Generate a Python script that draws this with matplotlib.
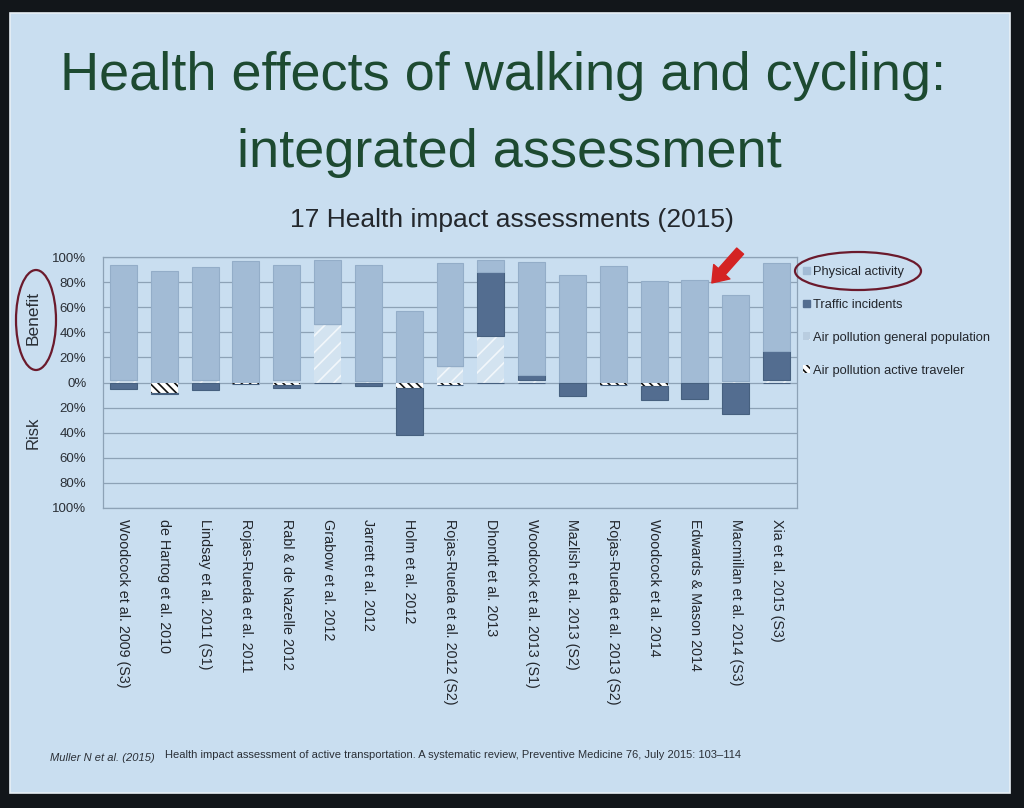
import numpy as np
import matplotlib
matplotlib.use("Agg")
import matplotlib.pyplot as plt
from matplotlib.patches import Rectangle, Ellipse, Patch

plt.rcParams['font.family'] = ['Liberation Sans', 'DejaVu Sans']
plt.rcParams['hatch.linewidth'] = 1.2

# studies (x axis)
studies = ["Woodcock et al. 2009 (S3)", "de Hartog et al. 2010", "Lindsay et al. 2011 (S1)",
           "Rojas-Rueda et al. 2011", "Rabl & de Nazelle 2012", "Grabow et al. 2012",
           "Jarrett et al. 2012", "Holm et al. 2012", "Rojas-Rueda et al. 2012 (S2)",
           "Dhondt et al. 2013", "Woodcock et al. 2013 (S1)", "Mazlish et al. 2013 (S2)",
           "Rojas-Rueda et al. 2013 (S2)", "Woodcock et al. 2014", "Edwards & Mason 2014",
           "Macmillan et al. 2014 (S3)", "Xia et al. 2015 (S3)"]

# benefit side (% of total impact)
airpol_general = [2, 0, 2, 0, 2, 47, 1, 0, 13, 37, 2, 0, 0, 0, 0, 1, 2]
traffic_benefit = [0, 0, 0, 0, 0, 0, 0, 0, 0, 51, 4, 0, 0, 0, 0, 0, 23]
physical_activity = [92, 89, 90, 97, 92, 51, 93, 57, 82, 10, 90, 86, 93, 81, 82, 69, 70]

# risk side
airpol_traveler = [0, 8, 0, 1, 2, 0, 0, 4, 2, 0, 0, 0, 2, 3, 0, 0, 0]
traffic_risk = [5, 1, 6, 0, 2, 0, 3, 38, 0, 0, 0, 11, 0, 11, 13, 25, 0]

legend_labels = ["Physical activity", "Traffic incidents",
                 "Air pollution general population", "Air pollution active traveler"]
ytick_vals = [100, 80, 60, 40, 20, 0, -20, -40, -60, -80, -100]

W, H = 1024, 808
fig = plt.figure(figsize=(W / 100, H / 100), dpi=100, facecolor="#12161a")

# slide
slide_bg = "#c9def0"
fig.patches.append(Rectangle((10 / W, 1 - 793 / H), 1000 / W, 780 / H,
                             transform=fig.transFigure, facecolor=slide_bg,
                             edgecolor="#e8f0f6", lw=1.2, zorder=-10))

c_pa = "#a2bbd5"
c_tr = "#536d90"
c_gp = "#d3e3f0"
gp_hatch = "#f2f7fb"

ax = fig.add_axes([103 / W, 1 - 508 / H, 694 / W, 251 / H])
ax.set_facecolor(slide_bg)
x = np.arange(len(studies))
bw = 0.66

gp = np.array(airpol_general)
tb = np.array(traffic_benefit)
pa = np.array(physical_activity)
at = np.array(airpol_traveler)
tr = np.array(traffic_risk)

ax.bar(x, gp, bw, color=c_gp, edgecolor=gp_hatch, lw=0, hatch="//", zorder=3)
ax.bar(x, tb, bw, bottom=gp, color=c_tr, edgecolor="#46607f", lw=0.8, zorder=3)
ax.bar(x, pa, bw, bottom=gp + tb, color=c_pa, edgecolor="#93adc8", lw=0.8, zorder=3)
ax.bar(x, -at, bw, color="white", edgecolor="#111111", lw=0, hatch="\\\\\\\\", zorder=3)
ax.bar(x, -tr, bw, bottom=-at, color=c_tr, edgecolor="#46607f", lw=0.8, zorder=3)

ax.set_xlim(-0.5, len(studies) - 0.5)
ax.set_ylim(-100, 100)
ax.set_yticks(ytick_vals)
ax.set_yticklabels([f"{abs(v)}%" for v in ytick_vals], fontsize=9.5, color="#2a2f36")
ax.set_xticks(x)
ax.set_xticklabels(studies, rotation=270, fontsize=10.3, color="#22262c",
                   va="top", ha="center")
ax.tick_params(axis="x", length=0, pad=8)
ax.tick_params(axis="y", length=0, pad=12)
ax.grid(axis="y", color="#8da2b6", lw=0.9, zorder=1)
for s in ax.spines.values():
    s.set_color("#8da2b6")
    s.set_linewidth(0.9)

# legend
handles = [Patch(facecolor=c_pa, edgecolor=c_pa),
           Patch(facecolor=c_tr, edgecolor=c_tr),
           Patch(facecolor="#b9cde0", edgecolor=gp_hatch, hatch="//", lw=0),
           Patch(facecolor="white", edgecolor="#111111", hatch="\\\\\\\\", lw=0)]
leg = ax.legend(handles, legend_labels, loc="upper left", bbox_to_anchor=(0.995, 1.0),
                frameon=False, fontsize=9.3, handlelength=0.55, handleheight=0.55,
                handletextpad=0.25, labelspacing=1.62, borderaxespad=0.3)
for t in leg.get_texts():
    t.set_color("#22262c")

# titles
green = "#1d4a31"
fig.text(503 / W, 1 - 76 / H, "Health effects of walking and cycling:", fontsize=39,
         color=green, ha="center", va="center")
fig.text(509 / W, 1 - 153 / H, "integrated assessment", fontsize=39,
         color=green, ha="center", va="center")
fig.text(512 / W, 1 - 220 / H, "17 Health impact assessments (2015)", fontsize=19,
         color="#23272c", ha="center", va="center")

# side labels
fig.text(33 / W, 1 - 318 / H, "Benefit", rotation=90, fontsize=12.5, color="#2a2f36",
         ha="center", va="center")
fig.text(33 / W, 1 - 433 / H, "Risk", rotation=90, fontsize=12, color="#2a2f36",
         ha="center", va="center")
ring = "#6b1a2c"
fig.patches.append(Ellipse((36 / W, 1 - 320 / H), 40 / W, 100 / H, transform=fig.transFigure,
                           fill=False, edgecolor=ring, lw=1.6))
fig.patches.append(Ellipse((858 / W, 1 - 271 / H), 126 / W, 38 / H, transform=fig.transFigure,
                           fill=False, edgecolor=ring, lw=1.6))

# red arrow
ax.annotate("", xy=(710 / W, 1 - 285 / H), xycoords="figure fraction",
            xytext=(742 / W, 1 - 249 / H), textcoords="figure fraction",
            arrowprops=dict(arrowstyle="simple,head_width=1.3,head_length=0.9,tail_width=0.55",
                            color="#d42323", mutation_scale=12))

# source
fig.text(50 / W, 1 - 758 / H, "Muller N et al. (2015)", fontsize=8, style="italic",
         color="#2a2f36", ha="left", va="center")
fig.text(165 / W, 1 - 755 / H,
         "Health impact assessment of active transportation. A systematic review, "
         "Preventive Medicine 76, July 2015: 103\u2013114",
         fontsize=8, color="#2a2f36", ha="left", va="center")

fig.savefig("out.png", dpi=100, facecolor=fig.get_facecolor())
